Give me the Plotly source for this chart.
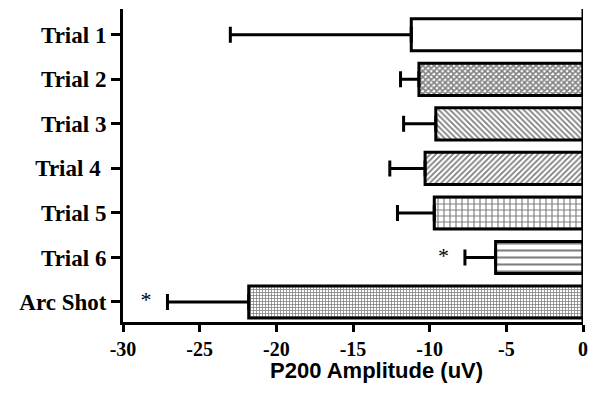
import plotly.graph_objects as go

# Conditions (top to bottom) and values
conditions = ["Trial 1", "Trial 2", "Trial 3", "Trial 4 ", "Trial 5", "Trial 6", "Arc Shot"]
amplitude = [-11.2, -10.7, -9.6, -10.3, -9.7, -5.7, -21.8]
sem = [11.8, 1.2, 2.1, 2.3, 2.4, 2.0, 5.3]
patterns = ["", "x", "\\", "/", "+", "-", "+"]
pattern_sizes = [8, 4, 4, 4, 6, 7, 3]
pattern_solidity = [0.3, 0.65, 0.45, 0.45, 0.35, 0.3, 0.45]

# significance markers
star_labels = ["Trial 6", "Arc Shot"]
star_x = [-9.1, -28.5]

fig = go.Figure()

fig.add_trace(go.Bar(
    y=conditions,
    x=amplitude,
    orientation="h",
    width=0.72,
    marker=dict(
        color="white",
        line=dict(color="black", width=3),
        pattern=dict(
            shape=patterns,
            size=pattern_sizes,
            solidity=pattern_solidity,
            fgcolor="black",
            bgcolor="white",
        ),
    ),
    error_x=dict(
        type="data",
        symmetric=False,
        array=[0] * len(sem),
        arrayminus=sem,
        color="black",
        thickness=3,
        width=8,
    ),
    showlegend=False,
))

fig.add_trace(go.Scatter(
    y=star_labels,
    x=star_x,
    mode="text",
    text=["*"] * len(star_x),
    textfont=dict(family="Liberation Serif", size=22, color="black"),
    textposition="middle center",
    showlegend=False,
))

fig.update_layout(
    width=583,
    height=381,
    margin=dict(l=115, r=8, t=1, b=67),
    plot_bgcolor="white",
    paper_bgcolor="white",
    xaxis=dict(
        range=[-30, 0],
        tickvals=[-30, -25, -20, -15, -10, -5, 0],
        ticktext=["-30", "-25", "-20", "-15", "-10", "-5", "0"],
        showgrid=False,
        zeroline=False,
        showline=True,
        linecolor="black",
        linewidth=3,
        ticks="outside",
        ticklen=7,
        tickwidth=3,
        tickcolor="black",
        ticklabeloverflow="allow",
        tickfont=dict(family="Liberation Serif", size=20, color="black", weight="bold"),
    ),
    yaxis=dict(
        categoryorder="array",
        categoryarray=conditions,
        autorange=False,
        range=[6.45, -0.58],
        showgrid=False,
        zeroline=False,
        showline=True,
        linecolor="black",
        linewidth=3,
        ticks="outside",
        ticklen=9,
        tickwidth=3,
        tickcolor="black",
        tickfont=dict(family="Liberation Serif", size=23, color="black", weight="bold"),
    ),
    annotations=[dict(
        text="<b>P200 Amplitude (uV)</b>",
        xref="paper", yref="paper",
        x=0.55, y=-0.155,
        xanchor="center", yanchor="middle",
        showarrow=False,
        font=dict(family="Liberation Sans", size=22, color="black"),
    )],
)

# right-hand zero line (axis at 0)
fig.add_shape(type="line", xref="x", yref="paper", x0=0, x1=0, y0=0, y1=1,
              line=dict(color="black", width=3))

fig.write_html("out.html")
